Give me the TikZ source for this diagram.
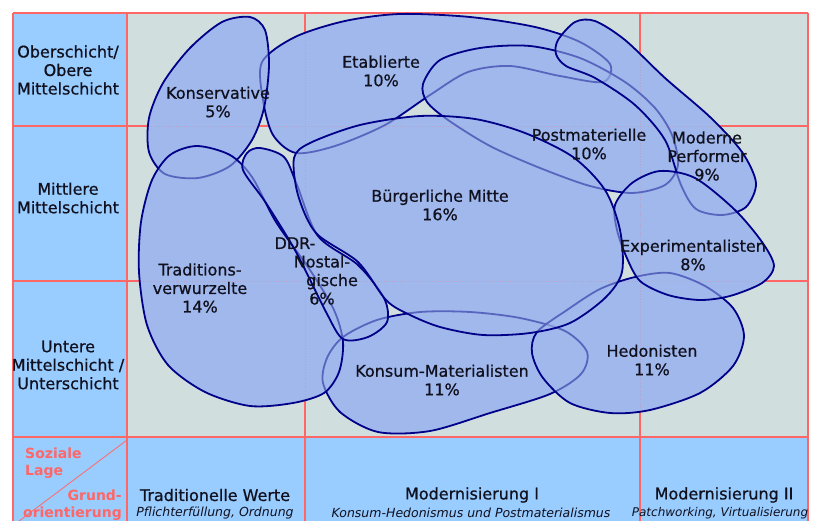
\documentclass[tikz,border=0pt]{standalone}
\usepackage{fontspec}
\setmainfont{DejaVu Sans}
\newfontfamily\heavysans{DejaVu Sans}[FakeBold=0.7]
\usetikzlibrary{calc}

\definecolor{cellblue}{RGB}{153,204,255}
\definecolor{fieldgray}{RGB}{208,222,222}
\definecolor{gridred}{RGB}{255,102,102}
\definecolor{blobblue}{RGB}{160,184,236}
\definecolor{blobline}{RGB}{0,0,136}
\definecolor{labelink}{RGB}{16,16,30}

\begin{document}
\begin{tikzpicture}[x=1pt, y=-1pt]

    \tikzset{
        gridline/.style={draw=gridred, line width=1.1pt},
        gridveil/.style={draw=gridred, line width=0.7pt, dotted, opacity=0.55},
        blobbase/.style={fill=blobblue},
        blobveil/.style={fill=blobblue, fill opacity=0.55},
        blobedge/.style={draw=blobline, line width=1.8pt},
        milieu/.style={font=\heavysans\fontsize{16}{18.5}\selectfont, text=labelink, align=center, inner sep=0pt},
        schicht/.style={font=\heavysans\fontsize{16}{18.5}\selectfont, text=labelink, align=center, inner sep=0pt},
        werte/.style={font=\heavysans\fontsize{16}{18}\selectfont, text=labelink, inner sep=0pt},
        werteinfo/.style={font=\fontsize{12.5}{14}\itshape, text=labelink, inner sep=0pt},
        axisnote/.style={font=\fontsize{14}{17}\bfseries, text=gridred, inner sep=0pt}
    }

    \useasboundingbox[fill=white] (0, 0) rectangle (813, 521);

    % background cells
    \fill[fieldgray] (127, 13) rectangle (808, 437);
    \fill[cellblue] (13, 13) rectangle (127, 530);
    \fill[cellblue] (127, 437) rectangle (808, 530);
    \foreach \gx in {13, 127, 305, 640, 808}
        \draw[gridline] (\gx, 13) -- (\gx, 530);
    \foreach \gy in {13, 126, 281, 437}
        \draw[gridline] (13, \gy) -- (808, \gy);
    \draw[gridred, line width=0.8pt] (127, 440) -- (15, 524);

    % milieu shapes
    \path[save path=\pKonsum] plot[smooth cycle] coordinates {(343,337) (377,320) (420,312) (470,312) (520,318) (565,331) (587,352) (581,374) (550,394) (490,413) (430,431) (378,432) (340,412) (323,383) (327,358)};
    \path[save path=\pHedon] plot[smooth cycle] coordinates {(537,332) (567,310) (600,289) (635,277) (670,273) (705,286) (733,308) (744,336) (733,366) (700,393) (650,410) (610,413) (570,403) (543,378) (532,353)};
    \path[save path=\pEtab] plot[smooth cycle] coordinates {(262,62) (295,37) (345,21) (400,14) (470,17) (535,27) (580,42) (610,64) (603,82) (560,76) (510,66) (468,72) (430,95) (385,125) (335,146) (296,153) (273,135) (263,100)};
    \path[save path=\pPostm] plot[smooth cycle] coordinates {(423,84) (440,60) (480,48) (530,46) (580,58) (625,82) (655,108) (672,135) (678,165) (665,185) (632,193) (590,186) (540,168) (490,146) (448,120) (427,102)};
    \path[save path=\pModperf] plot[smooth cycle] coordinates {(558,40) (575,22) (595,21) (625,40) (665,78) (710,117) (742,152) (756,183) (746,207) (722,215) (696,209) (681,185) (665,140) (635,105) (595,78) (566,66) (556,54)};
    \path[save path=\pExper] plot[smooth cycle] coordinates {(615,205) (632,183) (660,171) (695,178) (735,210) (762,242) (774,266) (762,283) (730,296) (700,300) (668,295) (640,281) (626,256) (617,230)};
    \path[save path=\pKons] plot[smooth cycle] coordinates {(250,17) (265,30) (269,65) (264,108) (252,140) (230,166) (198,178) (165,174) (149,152) (149,118) (163,83) (190,48) (222,22)};
    \path[save path=\pTrad] plot[smooth cycle] coordinates {(197,146) (230,155) (252,177) (276,222) (310,270) (334,310) (343,342) (339,372) (324,393) (293,403) (250,406) (205,392) (168,365) (147,325) (139,272) (141,222) (152,180) (170,155)};
    \path[save path=\pDdr] plot[smooth cycle] coordinates {(260,148) (284,157) (297,185) (318,236) (358,265) (384,298) (387,322) (368,337) (343,339) (326,312) (296,252) (266,203) (243,170) (247,153)};
    \path[save path=\pBuerg] plot[smooth cycle] coordinates {(294,158) (310,143) (360,125) (420,116) (475,119) (525,133) (573,157) (605,190) (620,230) (622,272) (605,298) (570,323) (530,333) (483,335) (440,327) (408,314) (386,300) (358,262) (316,233) (298,195)};

    \fill[blobbase, use path=\pKonsum];
    \fill[blobbase, use path=\pHedon];
    \fill[blobbase, use path=\pEtab];
    \fill[blobbase, use path=\pPostm];
    \fill[blobbase, use path=\pModperf];
    \fill[blobbase, use path=\pExper];
    \fill[blobbase, use path=\pKons];
    \fill[blobbase, use path=\pTrad];
    \fill[blobbase, use path=\pDdr];
    \fill[blobbase, use path=\pBuerg];

    \foreach \gx in {305, 640}
        \draw[gridveil] (\gx, 13) -- (\gx, 437);
    \foreach \gy in {126, 281}
        \draw[gridveil] (127, \gy) -- (808, \gy);

    \filldraw[blobveil, blobedge, use path=\pKonsum];
    \filldraw[blobveil, blobedge, use path=\pHedon];
    \filldraw[blobveil, blobedge, use path=\pEtab];
    \filldraw[blobveil, blobedge, use path=\pPostm];
    \filldraw[blobveil, blobedge, use path=\pModperf];
    \filldraw[blobveil, blobedge, use path=\pExper];
    \filldraw[blobveil, blobedge, use path=\pKons];
    \filldraw[blobveil, blobedge, use path=\pTrad];
    \filldraw[blobveil, blobedge, use path=\pDdr];
    \filldraw[blobveil, blobedge, use path=\pBuerg];

    % milieu labels
    \node[milieu] (kons) at (218, 102) {Konservative\\5\%};
    \node[milieu] (etab) at (381, 71) {Etablierte\\10\%};
    \node[milieu] (postm) at (589, 144) {Postmaterielle\\10\%};
    \node[milieu] (modperf) at (707, 156) {Moderne\\Performer\\9\%};
    \node[milieu] (buerg) at (440, 205) {Bürgerliche Mitte\\16\%};
    \node[milieu] (ddr) at (322, 271) {DDR-\hspace*{54pt}\\Nostal-\\\hspace*{20pt}gische\\6\%};
    \node[milieu] (trad) at (200, 288) {Traditions-\\verwurzelte\\14\%};
    \node[milieu] (exper) at (693, 255) {Experimentalisten\\8\%};
    \node[milieu] (konsum) at (442, 380) {Konsum-Materialisten\\11\%};
    \node[milieu] (hedon) at (652, 360) {Hedonisten\\11\%};

    % social strata
    \node[schicht] (ober) at (68, 70) {Oberschicht/\\Obere\\Mittelschicht};
    \node[schicht] (mittel) at (68, 198) {Mittlere\\Mittelschicht};
    \node[schicht] (unter) at (68, 365) {Untere\\Mittelschicht /\\Unterschicht};

    % value orientations
    \node[werte] (tradwerte) at (215, 495) {Traditionelle Werte};
    \node[werteinfo] (tradinfo) at (215, 513) {Pflichterfüllung, Ordnung};
    \node[werte] (modeins) at (472, 495) {Modernisierung I};
    \node[werteinfo] (modeinsinfo) at (471, 513) {Konsum-Hedonismus und Postmaterialismus};
    \node[werte] (modzwei) at (724, 495) {Modernisierung II};
    \node[werteinfo, font=\fontsize{12}{14}\itshape] (modzweiinfo) at (720, 513) {Patchworking, Virtualisierung};

    % corner cell
    \node[axisnote, align=left, anchor=north west] (lage) at (25, 448) {Soziale\\Lage};
    \node[axisnote, align=right, anchor=north east] (grund) at (122, 490) {Grund-\\orientierung};

\end{tikzpicture}
\end{document}
